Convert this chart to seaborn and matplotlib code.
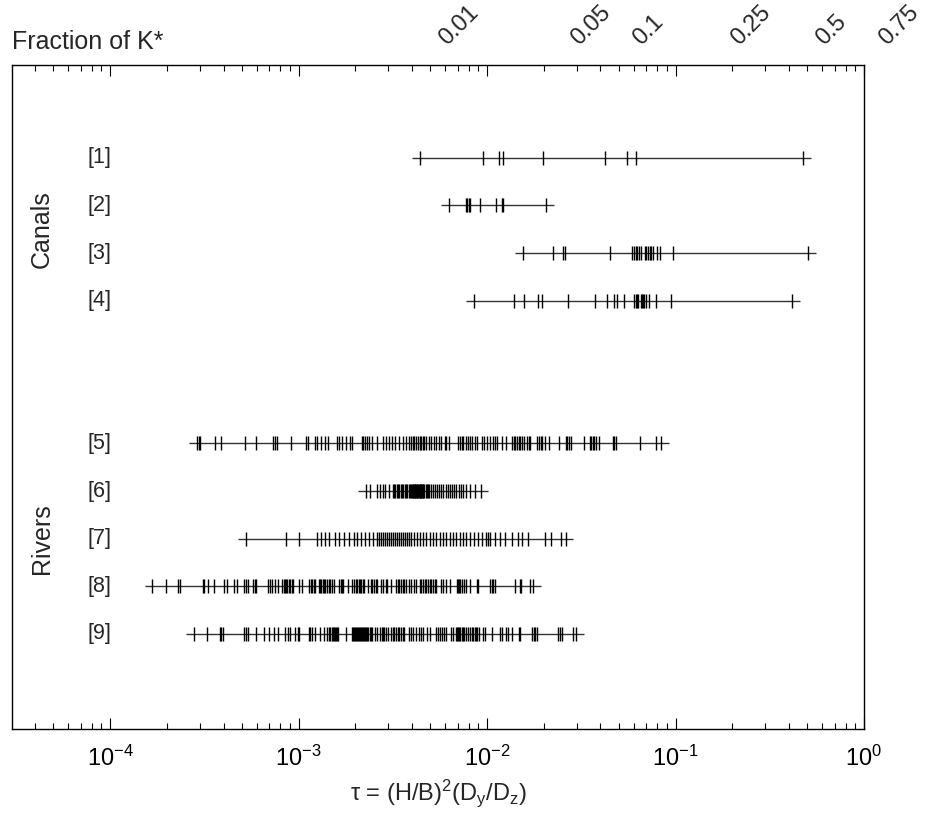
import numpy as np
import pandas as pd
import matplotlib
matplotlib.use("Agg")
import matplotlib.pyplot as plt
import matplotlib.transforms as mtransforms
from matplotlib.ticker import LogLocator
import seaborn as sns

sns.set_style("white")
plt.rcParams["font.family"] = ["Liberation Sans", "DejaVu Sans"]
plt.rcParams["mathtext.fontset"] = "custom"
plt.rcParams["mathtext.rm"] = "Liberation Sans"
plt.rcParams["mathtext.it"] = "Liberation Sans:italic"
plt.rcParams["mathtext.default"] = "regular"
plt.rcParams["axes.unicode_minus"] = False

# ---- data: log10(tau) for each data set ----
log_tau_1 = [-2.358, -2.023, -1.939, -1.916, -1.704, -1.376, -1.258, -1.210, -0.322]
log_tau_2 = [-2.203, -2.114, -2.105, -2.095, -2.091, -2.036, -1.953, -1.923, -1.914, -1.688]
log_tau_3 = [-1.811, -1.651, -1.595, -1.586, -1.346, -1.230, -1.221, -1.212, -1.203,
             -1.194, -1.182, -1.164, -1.155, -1.146, -1.137, -1.128, -1.119, -1.100,
             -1.082, -1.012, -0.296]
log_tau_4 = [-2.071, -1.856, -1.802, -1.729, -1.710, -1.570, -1.426, -1.365, -1.328,
             -1.310, -1.273, -1.221, -1.210, -1.205, -1.199, -1.183, -1.178, -1.173,
             -1.167, -1.155, -1.139, -1.101, -1.023, -0.380]
log_tau_5 = [-3.538, -3.529, -3.520, -3.442, -3.410, -3.285, -3.223, -3.134, -3.125,
             -3.116, -3.041, -2.959, -2.952, -2.911, -2.902, -2.879, -2.857, -2.843,
             -2.795, -2.786, -2.768, -2.750, -2.729, -2.718, -2.665, -2.658, -2.647,
             -2.635, -2.626, -2.608, -2.581, -2.554, -2.536, -2.522, -2.504, -2.487,
             -2.465, -2.447, -2.429, -2.412, -2.403, -2.394, -2.385, -2.376, -2.367,
             -2.358, -2.349, -2.340, -2.332, -2.323, -2.308, -2.296, -2.283, -2.269,
             -2.255, -2.242, -2.225, -2.216, -2.201, -2.153, -2.144, -2.135, -2.126,
             -2.112, -2.100, -2.091, -2.077, -2.064, -2.055, -2.028, -2.016, -2.002,
             -1.984, -1.970, -1.957, -1.945, -1.921, -1.898, -1.868, -1.859, -1.850,
             -1.841, -1.832, -1.823, -1.815, -1.806, -1.788, -1.779, -1.770, -1.734,
             -1.725, -1.716, -1.708, -1.690, -1.672, -1.618, -1.583, -1.574, -1.565,
             -1.556, -1.485, -1.453, -1.446, -1.438, -1.431, -1.422, -1.405, -1.333,
             -1.324, -1.315, -1.191, -1.101, -1.075]
log_tau_6 = [-2.643, -2.622, -2.586, -2.569, -2.554, -2.540, -2.522, -2.501, -2.494,
             -2.487, -2.479, -2.472, -2.465, -2.458, -2.451, -2.444, -2.437, -2.430,
             -2.422, -2.415, -2.408, -2.401, -2.397, -2.394, -2.390, -2.387, -2.383,
             -2.380, -2.376, -2.373, -2.369, -2.365, -2.362, -2.358, -2.355, -2.351,
             -2.348, -2.344, -2.340, -2.337, -2.332, -2.326, -2.321, -2.315, -2.310,
             -2.296, -2.287, -2.278, -2.265, -2.255, -2.242, -2.233, -2.219, -2.207,
             -2.198, -2.185, -2.175, -2.162, -2.148, -2.139, -2.127, -2.114, -2.091,
             -2.064, -2.034]
log_tau_7 = [-3.278, -3.064, -3.000, -2.904, -2.882, -2.861, -2.839, -2.807, -2.786,
             -2.759, -2.733, -2.706, -2.690, -2.668, -2.647, -2.626, -2.604, -2.583,
             -2.572, -2.561, -2.551, -2.540, -2.529, -2.519, -2.508, -2.497, -2.487,
             -2.476, -2.465, -2.454, -2.444, -2.433, -2.422, -2.412, -2.401, -2.385,
             -2.369, -2.358, -2.342, -2.326, -2.305, -2.289, -2.273, -2.251, -2.235,
             -2.219, -2.198, -2.182, -2.166, -2.144, -2.128, -2.112, -2.091, -2.069,
             -2.048, -2.027, -2.005, -1.995, -1.984, -1.957, -1.930, -1.904, -1.866,
             -1.834, -1.813, -1.781, -1.690, -1.663, -1.610, -1.583]
log_tau_8 = [-3.775, -3.704, -3.638, -3.629, -3.508, -3.499, -3.481, -3.446, -3.396,
             -3.378, -3.342, -3.324, -3.289, -3.276, -3.267, -3.241, -3.232, -3.223,
             -3.164, -3.151, -3.139, -3.125, -3.110, -3.089, -3.077, -3.071, -3.066,
             -3.059, -3.053, -3.044, -3.036, -3.027, -3.000, -2.982, -2.943, -2.936,
             -2.929, -2.920, -2.911, -2.893, -2.886, -2.879, -2.872, -2.864, -2.857,
             -2.848, -2.840, -2.831, -2.822, -2.813, -2.786, -2.777, -2.768, -2.765,
             -2.736, -2.715, -2.706, -2.697, -2.688, -2.681, -2.674, -2.667, -2.659,
             -2.652, -2.634, -2.617, -2.608, -2.599, -2.590, -2.581, -2.563, -2.554,
             -2.536, -2.528, -2.510, -2.483, -2.474, -2.465, -2.456, -2.447, -2.438,
             -2.430, -2.412, -2.403, -2.385, -2.376, -2.358, -2.349, -2.340, -2.331,
             -2.323, -2.314, -2.305, -2.296, -2.287, -2.278, -2.269, -2.242, -2.233,
             -2.216, -2.194, -2.159, -2.153, -2.148, -2.141, -2.135, -2.121, -2.114,
             -2.091, -2.055, -2.046, -1.984, -1.975, -1.966, -1.957, -1.850, -1.827,
             -1.818, -1.770, -1.756]
log_tau_9 = [-3.556, -3.485, -3.419, -3.410, -3.401, -3.289, -3.280, -3.267, -3.228,
             -3.182, -3.157, -3.128, -3.107, -3.071, -3.057, -3.044, -3.021, -3.003,
             -2.995, -2.946, -2.938, -2.929, -2.911, -2.884, -2.866, -2.848, -2.840,
             -2.831, -2.825, -2.818, -2.811, -2.806, -2.800, -2.795, -2.790, -2.747,
             -2.718, -2.713, -2.708, -2.702, -2.697, -2.692, -2.686, -2.681, -2.675,
             -2.670, -2.665, -2.659, -2.654, -2.649, -2.643, -2.636, -2.629, -2.622,
             -2.615, -2.608, -2.593, -2.581, -2.569, -2.558, -2.551, -2.544, -2.536,
             -2.527, -2.510, -2.501, -2.492, -2.483, -2.474, -2.465, -2.456, -2.447,
             -2.438, -2.415, -2.403, -2.394, -2.376, -2.362, -2.349, -2.337, -2.319,
             -2.305, -2.269, -2.260, -2.251, -2.237, -2.228, -2.216, -2.189, -2.180,
             -2.166, -2.159, -2.153, -2.148, -2.141, -2.135, -2.130, -2.123, -2.109,
             -2.100, -2.091, -2.082, -2.073, -2.066, -2.059, -2.052, -2.044, -2.019,
             -2.011, -1.975, -1.930, -1.921, -1.898, -1.886, -1.868, -1.832, -1.823,
             -1.761, -1.752, -1.743, -1.734, -1.624, -1.613, -1.601, -1.544, -1.529]

series_logs = [log_tau_1, log_tau_2, log_tau_3, log_tau_4, log_tau_5,
               log_tau_6, log_tau_7, log_tau_8, log_tau_9]
series_labels = ["[1]", "[2]", "[3]", "[4]", "[5]", "[6]", "[7]", "[8]", "[9]"]
row_slots = [1, 2, 3, 4, 7, 8, 9, 10, 11]
group_names = ["Canals", "Rivers"]

# top scale: fraction of K* and the tau where each label sits
kstar_labels = ["0.01", "0.05", "0.1", "0.25", "0.5", "0.75"]
kstar_tau = [0.0064, 0.032, 0.069, 0.228, 0.64, 1.38]

frames = []
for lab, slot, vals in zip(series_labels, row_slots, series_logs):
    frames.append(pd.DataFrame({"tau": 10.0 ** np.array(vals), "row": slot, "set": lab}))
df = pd.concat(frames, ignore_index=True)

W, H = 925, 824
fig = plt.figure(figsize=(W / 100, H / 100), dpi=100)
ax_l, ax_r, ax_t, ax_b = 12, 864, 65, 729
ax = fig.add_axes([ax_l / W, 1 - ax_b / H, (ax_r - ax_l) / W, (ax_b - ax_t) / H])

# horizontal range lines
for slot, vals in zip(row_slots, series_logs):
    t = 10.0 ** np.array(vals)
    ax.hlines(slot, t.min() / 1.1, t.max() * 1.1, color="#333333", lw=1.0, zorder=1)

sns.scatterplot(data=df, x="tau", y="row", marker="|", s=115, color="black",
                linewidth=1.0, legend=False, ax=ax, zorder=2)

ax.set_xscale("log")
ax.set_xlim(10 ** -4.52, 1.0)
ax.set_ylim(13.0, -0.95)
ax.set_yticks([])
ax.set_ylabel("")
ax.xaxis.set_major_locator(LogLocator(base=10, numticks=10))
ax.xaxis.set_minor_locator(LogLocator(base=10, subs=np.arange(2, 10), numticks=20))
ax.tick_params(axis="x", which="both", direction="in", top=True, bottom=True,
               labelsize=17, colors="black", pad=12)
ax.tick_params(axis="x", which="major", length=8, width=0.8)
ax.tick_params(axis="x", which="minor", length=4, width=0.8)
for sp in ax.spines.values():
    sp.set_visible(True)
    sp.set_color("black")
    sp.set_linewidth(1.0)
ax.set_xlabel(r"$\tau$ = (H/B)$^2$(D$_y$/D$_z$)", fontsize=17, labelpad=5)

blend = mtransforms.blended_transform_factory(ax.transAxes, ax.transData)
for lab, slot in zip(series_labels, row_slots):
    ax.text(0.089, slot, lab, transform=blend, ha="left", va="center", fontsize=15.5)
ax.text(0.035, np.mean(row_slots[:4]), group_names[0], transform=blend, rotation=90,
        ha="center", va="center", fontsize=18)
ax.text(0.035, np.mean(row_slots[4:]), group_names[1], transform=blend, rotation=90,
        ha="center", va="center", fontsize=18)

# top labels: fraction of K*
top_blend = mtransforms.blended_transform_factory(ax.transData, ax.transAxes)
for lab, tv in zip(kstar_labels, kstar_tau):
    ax.text(tv, 1.024, lab, transform=top_blend, rotation=45, rotation_mode="anchor",
            ha="left", va="bottom", fontsize=17, clip_on=False)

fig.text(12 / W, 1 - 42 / H, "Fraction of K*", ha="left", va="center", fontsize=18)

fig.savefig("out.png", dpi=100)
